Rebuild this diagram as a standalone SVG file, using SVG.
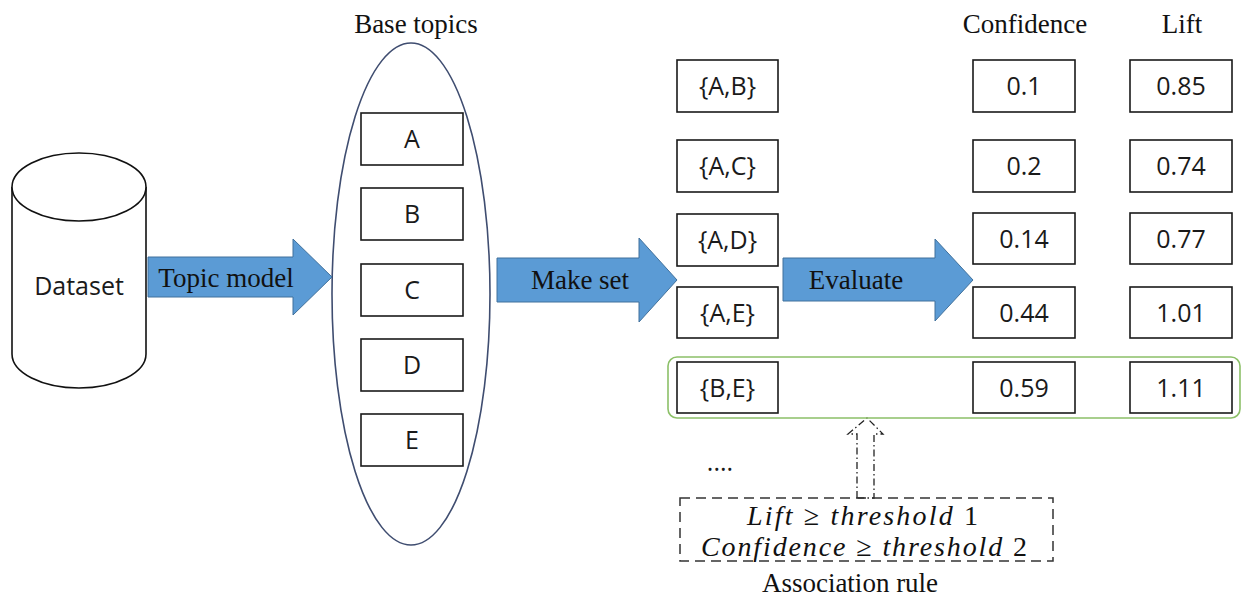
<svg xmlns="http://www.w3.org/2000/svg" width="1243" height="597" viewBox="0 0 1243 597">
<style>
.bg{fill:#fff}
.box{fill:#fff;stroke:#1a1a1a;stroke-width:1.6}
.lbl{font-family:"Open Sans","Liberation Sans",sans-serif;font-size:25px;fill:#1a1a1a;text-anchor:middle}
.ser{font-family:"Liberation Serif","Times New Roman",serif;font-size:27px;fill:#111;text-anchor:middle}
.arr{fill:#5b9bd5;stroke:#41719c;stroke-width:1}
.math{font-family:"Liberation Serif","Times New Roman",serif;font-style:italic;font-size:28px;fill:#111}
</style>
<rect class="bg" x="0" y="0" width="1243" height="597"/>

<g id="dataset">
  <path d="M12,187 V354 A67,34 0 0 0 146,354 V187" fill="#fff" stroke="#111" stroke-width="1.6"/>
  <ellipse cx="79" cy="187" rx="67" ry="34" fill="#fff" stroke="#111" stroke-width="1.6"/>
  <text class="lbl" x="79" y="295">Dataset</text>
</g>

<g id="base-topics">
  <text class="ser" x="416" y="33">Base topics</text>
  <ellipse cx="411" cy="294" rx="79" ry="251" fill="none" stroke="#3f4d70" stroke-width="1.6"/>
</g>
<g id="topic-A"><rect class="box" x="361" y="113" width="102" height="52"/><text class="lbl" x="412" y="148">A</text></g>
<g id="topic-B"><rect class="box" x="361" y="188" width="102" height="52"/><text class="lbl" x="412" y="223">B</text></g>
<g id="topic-C"><rect class="box" x="361" y="264" width="102" height="52"/><text class="lbl" x="412" y="299">C</text></g>
<g id="topic-D"><rect class="box" x="361" y="339" width="102" height="52"/><text class="lbl" x="412" y="374">D</text></g>
<g id="topic-E"><rect class="box" x="361" y="414" width="102" height="52"/><text class="lbl" x="412" y="449">E</text></g>

<g id="connectors">
  <polygon class="arr" points="148,257 293,257 293,239 332,277 293,315 293,297 148,297"/>
  <text class="ser" x="226" y="287">Topic model</text>
  <polygon class="arr" points="497,258 639,258 639,238 677,280 639,322 639,302 497,302"/>
  <text class="ser" x="580" y="289">Make set</text>
  <polygon class="arr" points="783,258 935,258 935,239 973,280 935,321 935,301 783,301"/>
  <text class="ser" x="856" y="289">Evaluate</text>
  <polygon points="857,498 857,434 848,434 867,418 883,434 874,434 874,498" fill="none" stroke="#222" stroke-width="1.3" stroke-dasharray="7,3,1.5,3"/>
</g>

<g id="association-highlight">
  <rect x="668" y="357" width="572" height="61" rx="9" fill="none" stroke="#8cc068" stroke-width="1.6"/>
</g>

<g id="headers">
  <text class="ser" x="1025" y="33">Confidence</text>
  <text class="ser" x="1182" y="33">Lift</text>
</g>

<g id="set-AB"><rect class="box" x="677" y="60" width="101" height="52"/><text class="lbl" x="727.5" y="95">{A,B}</text></g>
<g id="set-AC"><rect class="box" x="677" y="140" width="101" height="52"/><text class="lbl" x="727.5" y="175">{A,C}</text></g>
<g id="set-AD"><rect class="box" x="677" y="214" width="101" height="52"/><text class="lbl" x="727.5" y="249">{A,D}</text></g>
<g id="set-AE"><rect class="box" x="677" y="287" width="101" height="51"/><text class="lbl" x="727.5" y="322">{A,E}</text></g>
<g id="set-BE"><rect class="box" x="677" y="362" width="101" height="51"/><text class="lbl" x="727.5" y="397">{B,E}</text></g>

<g id="conf-1"><rect class="box" x="973" y="60" width="102" height="52"/><text class="lbl" x="1024" y="95">0.1</text></g>
<g id="conf-2"><rect class="box" x="973" y="140" width="102" height="52"/><text class="lbl" x="1024" y="175">0.2</text></g>
<g id="conf-3"><rect class="box" x="973" y="213" width="102" height="51"/><text class="lbl" x="1024" y="248">0.14</text></g>
<g id="conf-4"><rect class="box" x="973" y="287" width="102" height="51"/><text class="lbl" x="1024" y="322">0.44</text></g>
<g id="conf-5"><rect class="box" x="973" y="362" width="102" height="51"/><text class="lbl" x="1024" y="397">0.59</text></g>

<g id="lift-1"><rect class="box" x="1130" y="60" width="102" height="52"/><text class="lbl" x="1181" y="95">0.85</text></g>
<g id="lift-2"><rect class="box" x="1130" y="140" width="102" height="52"/><text class="lbl" x="1181" y="175">0.74</text></g>
<g id="lift-3"><rect class="box" x="1130" y="213" width="102" height="51"/><text class="lbl" x="1181" y="248">0.77</text></g>
<g id="lift-4"><rect class="box" x="1130" y="287" width="102" height="51"/><text class="lbl" x="1181" y="322">1.01</text></g>
<g id="lift-5"><rect class="box" x="1130" y="362" width="102" height="51"/><text class="lbl" x="1181" y="397">1.11</text></g>

<g id="ellipsis">
  <text class="lbl" x="720" y="471" font-size="20">....</text>
</g>

<g id="rule">
  <rect x="680" y="498" width="373" height="63" fill="none" stroke="#333" stroke-width="1.5" stroke-dasharray="10,6"/>
  <text class="math" x="747" y="525" textLength="231" lengthAdjust="spacing">Lift ≥ threshold <tspan font-style="normal">1</tspan></text>
  <text class="math" x="701" y="556" textLength="326" lengthAdjust="spacing">Confidence ≥ threshold <tspan font-style="normal">2</tspan></text>
  <text class="ser" x="850" y="592" font-size="25">Association rule</text>
</g>
</svg>
